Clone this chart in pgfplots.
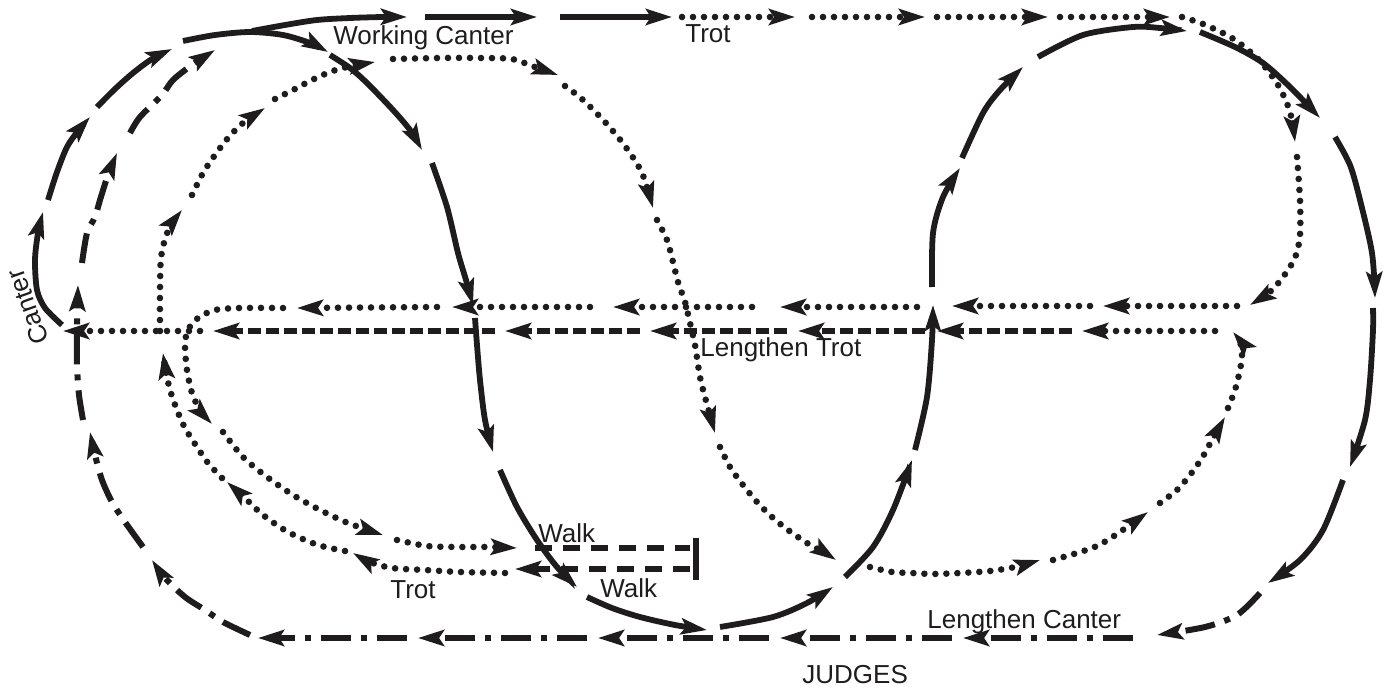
\documentclass[border=0pt]{standalone}
\usepackage{pgfplots}
\pgfplotsset{compat=1.18}
\usetikzlibrary{arrows.meta}
\usepackage{fontspec}
\setmainfont{Liberation Sans}
\definecolor{ink}{RGB}{30,28,29}
\tikzset{
  arrowtip/.style={-{Stealth[length=13pt,width=8pt,inset=2.5pt]}},
  canter/.style={ink,line width=2.9pt,arrowtip},
  trot/.style={ink,line width=3.3pt,line cap=round,dash pattern=on 0pt off 5.5pt,arrowtip},
  ltrot/.style={ink,line width=3.2pt,dash pattern=on 6.5pt off 2.5pt,arrowtip},
  walk/.style={ink,line width=3pt,dash pattern=on 8.5pt off 5.5pt},
  lcanter/.style={ink,line width=3pt,dash pattern=on 15pt off 5pt on 3pt off 5pt,arrowtip},
  lab/.style={inner sep=0pt,anchor=base west,text=ink,font=\fontsize{13}{15}\selectfont},
}
\begin{document}
\begin{tikzpicture}
\begin{axis}[scale only axis, width=696.5pt, height=345pt,
  xmin=0, xmax=1393, ymin=0, ymax=690, y dir=reverse,
  hide axis, clip=false]
% ---- canter (solid)
\addplot[canter,smooth] coordinates {(62,325) (45,308) (37,290) (35,260) (38,233) (43,212)};
\addplot[canter,smooth] coordinates {(48,200) (57,172) (67,147) (78,131) (90,117)};
\addplot[canter,smooth] coordinates {(97,107) (115,89) (133,73) (152,59) (172,49)};
\addplot[canter,smooth] coordinates {(183,41) (215,35) (250,32) (283,35) (310,43) (328,52)};
\addplot[canter,smooth] coordinates {(252,31) (285,25) (317,20) (350,18) (383,17) (407,17)};
\addplot[canter] coordinates {(425,17) (537,17)};
\addplot[canter] coordinates {(560,17) (672,17)};
\addplot[canter,smooth] coordinates {(330,55) (350,68) (367,83) (393,110) (410,130) (422,150)};
\addplot[canter,smooth] coordinates {(432,163) (447,207) (458,253) (466,280) (473,305)};
\addplot[canter,smooth] coordinates {(475,318) (477,345) (480,380) (485,420) (493,452)};
\addplot[canter,smooth] coordinates {(500,470) (517,507) (537,540) (557,567) (577,587)};
\addplot[canter,smooth] coordinates {(587,597) (612,608) (640,617) (675,625) (707,630)};
\addplot[canter,smooth] coordinates {(720,627) (773,617) (807,603) (833,587)};
\addplot[canter,smooth] coordinates {(845,577) (873,547) (893,510) (912,460)};
\addplot[canter,smooth] coordinates {(915,450) (927,397) (932,340) (933,305)};
\addplot[canter,smooth] coordinates {(932,287) (933,233) (943,197) (960,168)};
\addplot[canter,smooth] coordinates {(962,158) (983,113) (1000,90) (1023,67)};
\addplot[canter,smooth] coordinates {(1038,57) (1083,35) (1133,27) (1160,28) (1187,31)};
\addplot[canter,smooth] coordinates {(1200,32) (1235,47) (1263,63) (1290,87) (1320,118)};
\addplot[canter,smooth] coordinates {(1335,137) (1350,165) (1360,200) (1372,253) (1375,298)};
\addplot[canter,smooth] coordinates {(1373,308) (1373,330) (1370,380) (1365,420) (1350,467)};
\addplot[canter,smooth] coordinates {(1343,480) (1323,530) (1300,560) (1268,583)};
% ---- lengthen canter (dash-dot)
\addplot[lcanter,smooth] coordinates {(1260,593) (1237,615) (1205,627) (1157,635)};
\addplot[lcanter] coordinates {(1133,638) (963,638)};
\addplot[lcanter] coordinates {(952,638) (780,638)};
\addplot[lcanter] coordinates {(769,638) (598,638)};
\addplot[lcanter] coordinates {(587,638) (418,638)};
\addplot[lcanter] coordinates {(407,638) (258,638)};
\addplot[lcanter,smooth] coordinates {(250,635) (223,622) (205,610) (185,597) (165,578) (152,560)};
\addplot[lcanter,smooth] coordinates {(143,547) (125,522) (112,502) (102,480) (95,455) (90,432)};
\addplot[lcanter,smooth] coordinates {(83,420) (79,395) (77,365) (77,330) (78,285)};
\addplot[lcanter,smooth] coordinates {(82,263) (87,233) (95,217) (100,200) (108,175) (117,153)};
\addplot[lcanter,smooth] coordinates {(130,133) (140,117) (162,95) (173,80) (192,65) (215,50)};
% ---- trot (dotted)
\addplot[trot] coordinates {(682,17) (795,17)};
\addplot[trot] coordinates {(812,17) (925,17)};
\addplot[trot] coordinates {(937,17) (1048,17)};
\addplot[trot] coordinates {(1060,17) (1170,17)};
\addplot[trot,smooth] coordinates {(1182,17) (1203,24) (1232,38) (1258,59) (1278,85) (1290,112) (1295,142)};
\addplot[trot,smooth] coordinates {(1297,157) (1300,200) (1300,235) (1296,255) (1288,270) (1272,290) (1250,305)};
\addplot[trot] coordinates {(1237,306) (1103,306)};
\addplot[trot] coordinates {(1090,306) (952,306)};
\addplot[trot] coordinates {(917,307) (780,307)};
\addplot[trot] coordinates {(752,307) (613,307)};
\addplot[trot] coordinates {(590,307) (452,307)};
\addplot[trot] coordinates {(437,307) (297,308)};
\addplot[trot,smooth] coordinates {(283,308) (240,308) (215,310) (198,318) (188,330) (185,345) (187,370) (192,393) (200,410) (212,424)};
\addplot[trot,smooth] coordinates {(223,432) (243,457) (267,477) (293,495) (320,510) (348,523) (383,535)};
\addplot[trot,smooth] coordinates {(397,540) (427,546) (458,547) (490,547) (517,548)};
\addplot[walk] coordinates {(535,548) (690,548)};
\addplot[walk,arrowtip] coordinates {(690,569) (515,569)};
\addplot[ink,line width=3pt] coordinates {(696,538) (696,580)};
\addplot[trot,smooth] coordinates {(505,573) (460,572) (425,570) (392,568) (370,562) (353,553)};
\addplot[trot,smooth] coordinates {(345,551) (318,545) (288,532) (263,515) (247,500) (227,482)};
\addplot[trot,smooth] coordinates {(222,478) (208,463) (197,447) (185,428) (177,410) (170,390) (166,372) (163,353)};
\addplot[trot,smooth] coordinates {(160,331) (160,290) (161,258) (166,236) (173,222) (182,210)};
\addplot[trot,smooth] coordinates {(192,195) (203,173) (215,155) (228,138) (243,123) (265,108)};
\addplot[trot,smooth] coordinates {(275,99) (293,90) (312,80) (330,72) (347,67) (375,62)};
\addplot[trot,smooth] coordinates {(393,59) (440,58) (480,58) (512,59) (532,66) (558,75)};
\addplot[trot,smooth] coordinates {(565,86) (582,99) (605,122) (625,146) (642,173) (653,208)};
\addplot[trot,smooth] coordinates {(657,220) (667,240) (673,262) (678,282) (685,302) (690,323) (695,345) (700,377) (705,397) (715,433)};
\addplot[trot,smooth] coordinates {(720,447) (730,467) (743,485) (757,502) (772,517) (788,530) (807,543) (825,553) (836,560)};
\addplot[trot,smooth] coordinates {(870,567) (892,572) (912,573) (932,574) (960,573) (990,571) (1015,567) (1040,560)};
\addplot[trot,smooth] coordinates {(1053,560) (1077,553) (1097,546) (1117,534) (1148,512)};
\addplot[trot,smooth] coordinates {(1160,503) (1177,490) (1190,475) (1202,458) (1212,440) (1225,417)};
\addplot[trot,smooth] coordinates {(1228,408) (1235,390) (1240,370) (1242,355) (1240,342) (1233,332)};
\addplot[trot] coordinates {(1215,331) (1082,331)};
% ---- lengthen trot (dashed)
\addplot[ltrot] coordinates {(1072,331) (937,331)};
\addplot[ltrot] coordinates {(925,331) (798,331)};
\addplot[ltrot] coordinates {(787,331) (650,331)};
\addplot[ltrot] coordinates {(640,331) (505,331)};
\addplot[ltrot] coordinates {(495,331) (213,331)};
\addplot[trot] coordinates {(200,331) (63,331)};
% ---- labels
\node[lab] at (axis cs:333,45) {Working Canter};
\node[lab] at (axis cs:685,43) {Trot};
\node[lab] at (axis cs:700,357) {Lengthen Trot};
\node[lab] at (axis cs:538,542) {Walk};
\node[lab] at (axis cs:600,597) {Walk};
\node[lab] at (axis cs:390,598) {Trot};
\node[lab] at (axis cs:927,628) {Lengthen Canter};
\node[lab] at (axis cs:802,683) {JUDGES};
\node[inner sep=0pt,anchor=base,rotate=109.5,text=ink,font=\fontsize{13}{15}\selectfont] at (axis cs:36,304) {Canter};
\end{axis}
\pgfresetboundingbox
\useasboundingbox (current axis.south west) rectangle (current axis.north east);
\end{tikzpicture}
\end{document}
